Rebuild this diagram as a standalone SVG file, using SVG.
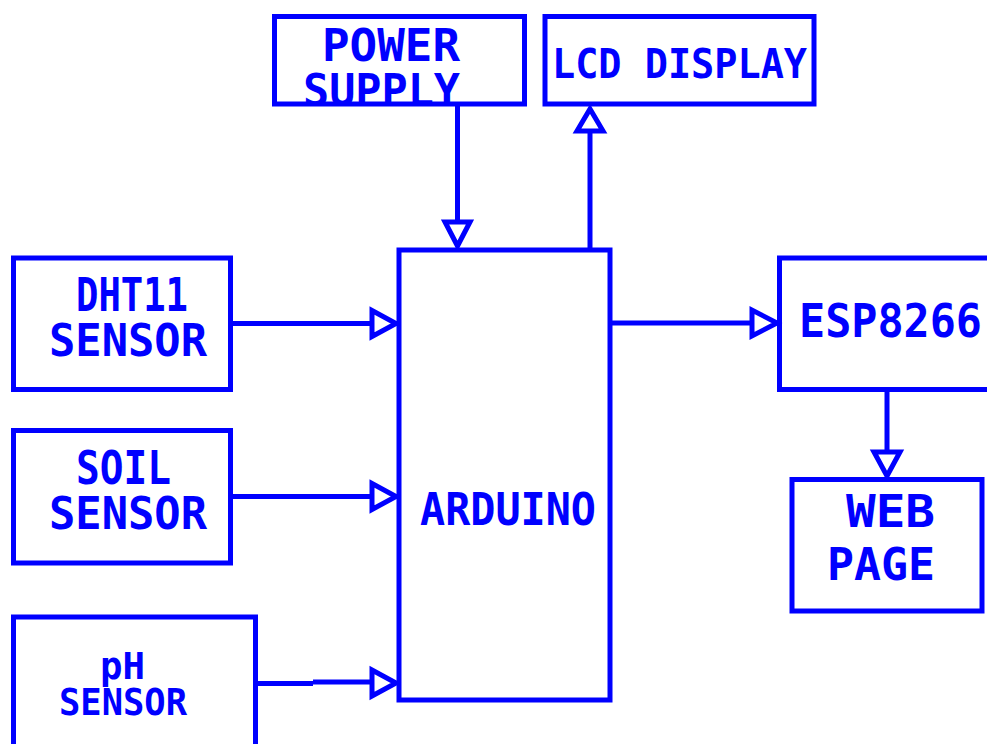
<svg xmlns="http://www.w3.org/2000/svg" width="987" height="744" viewBox="0 0 987 744">
<style>
.box{fill:none;stroke:#0000FF;stroke-width:5}
.ln{fill:none;stroke:#0000FF;stroke-width:5}
.ah{fill:#FFFFFF;stroke:#0000FF;stroke-width:5;stroke-linejoin:miter}
.t{font-family:"DejaVu Sans Mono","Liberation Mono",monospace;font-weight:bold;fill:#0000FF}
</style>
<defs>
<clipPath id="cpPower"><rect x="277" y="19" width="245" height="83"/></clipPath>
</defs>
<rect x="0" y="0" width="987" height="744" fill="#FFFFFF"/>
<g id="connectors">
<line class="ln" x1="457.5" y1="104" x2="457.5" y2="222"/>
<polygon class="ah" points="445,222 470,222 457.5,246"/>
<line class="ln" x1="590" y1="250" x2="590" y2="131"/>
<polygon class="ah" points="577,131 603,131 590,109"/>
<line class="ln" x1="230.5" y1="323.5" x2="372" y2="323.5"/>
<polygon class="ah" points="372,310.5 372,336.5 396,323.5"/>
<line class="ln" x1="230.5" y1="496.5" x2="372" y2="496.5"/>
<polygon class="ah" points="372,483.5 372,509.5 396,496.5"/>
<path class="ln" d="M255.5,683.5 H313 M313,682 H372"/>
<polygon class="ah" points="372,670 372,696 396,683"/>
<line class="ln" x1="610" y1="323" x2="752" y2="323"/>
<polygon class="ah" points="752,310 752,336 777,323"/>
<line class="ln" x1="887" y1="389.5" x2="887" y2="452"/>
<polygon class="ah" points="874,452 900,452 887,476"/>
</g>
<g id="power">
<rect class="box" x="274.5" y="16.5" width="250" height="87.5"/>
<text class="t" x="322" y="61" font-size="45" textLength="138" lengthAdjust="spacingAndGlyphs">POWER</text>
<g clip-path="url(#cpPower)"><text class="t" x="303" y="106" font-size="45" textLength="157" lengthAdjust="spacingAndGlyphs">SUPPLY</text></g>
</g>
<g id="lcd">
<rect class="box" x="545" y="16.5" width="269" height="87.5"/>
<text class="t" x="552" y="78" font-size="41" textLength="255" lengthAdjust="spacingAndGlyphs">LCD DISPLAY</text>
</g>
<g id="dht11">
<rect class="box" x="13.5" y="258" width="217" height="131.5"/>
<text class="t" x="76" y="311" font-size="46" textLength="112" lengthAdjust="spacingAndGlyphs">DHT11</text>
<text class="t" x="49" y="356" font-size="45" textLength="158" lengthAdjust="spacingAndGlyphs">SENSOR</text>
</g>
<g id="soil">
<rect class="box" x="13.5" y="430.5" width="217" height="132.5"/>
<text class="t" x="76" y="484" font-size="46" textLength="95" lengthAdjust="spacingAndGlyphs">SOIL</text>
<text class="t" x="49" y="529" font-size="45" textLength="158" lengthAdjust="spacingAndGlyphs">SENSOR</text>
</g>
<g id="ph">
<rect class="box" x="13.5" y="617" width="242" height="150"/>
<text class="t" x="100" y="679" font-size="37" textLength="45" lengthAdjust="spacingAndGlyphs">pH</text>
<text class="t" x="59" y="715" font-size="37" textLength="128" lengthAdjust="spacingAndGlyphs">SENSOR</text>
</g>
<g id="arduino">
<rect class="box" x="399" y="250" width="211" height="450"/>
<text class="t" x="420" y="525" font-size="45" textLength="176" lengthAdjust="spacingAndGlyphs">ARDUINO</text>
</g>
<g id="esp8266">
<rect class="box" x="779.5" y="258" width="230" height="131.5"/>
<text class="t" x="799" y="337" font-size="46" textLength="183" lengthAdjust="spacingAndGlyphs">ESP8266</text>
</g>
<g id="webpage">
<rect class="box" x="792" y="479.5" width="190" height="131.5"/>
<text class="t" x="846" y="527" font-size="44" textLength="89" lengthAdjust="spacingAndGlyphs">WEB</text>
<text class="t" x="827" y="580" font-size="45" textLength="108" lengthAdjust="spacingAndGlyphs">PAGE</text>
</g>
</svg>
